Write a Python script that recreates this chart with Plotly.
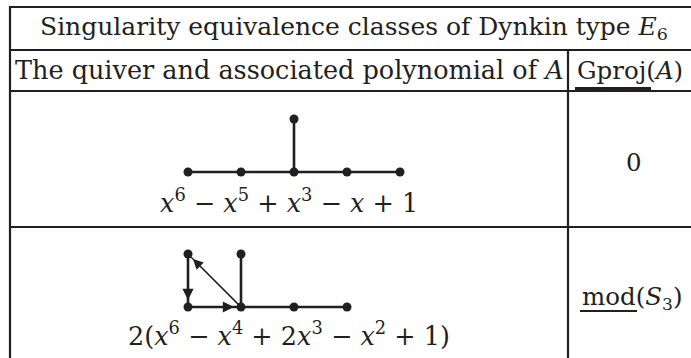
import plotly.graph_objects as go

# ---- table text ----
title = "Singularity equivalence classes of Dynkin type <i>E</i><sub>6</sub>"
header = ["The quiver and associated polynomial of <i>A</i>", "Gproj(<i>A</i>)"]
polynomials = [
    "<i>x</i><sup>6</sup> − <i>x</i><sup>5</sup> + <i>x</i><sup>3</sup> − <i>x</i> + 1",
    "2(<i>x</i><sup>6</sup> − <i>x</i><sup>4</sup> + 2<i>x</i><sup>3</sup> − <i>x</i><sup>2</sup> + 1)",
]
gproj = ["0", "mod(<i>S</i><sub>3</sub>)"]

# ---- quivers, in grid units ----
q1_x = [0, 1, 2, 3, 4, 2]
q1_y = [0, 0, 0, 0, 0, 1]
q1_edges = [(0, 1), (1, 2), (2, 3), (3, 4), (2, 5)]

q2_x = [0, 1, 2, 3, 0, 1]
q2_y = [0, 0, 0, 0, 1, 1]
q2_edges = [(0, 1), (1, 2), (2, 3), (1, 5), (4, 0)]
q2_thick_arrows = [(4, 0), (0, 1)]
q2_thin_arrows = [(1, 4)]

W, H = 691, 358
ink = '#231f20'
serif = 'DejaVu Serif'
unit = 53          # px per grid step
x0_px = 188        # px of grid x=0
row_base = [172, 307]  # px of grid y=0 in each row

fig = go.Figure()


def edge_xy(xs, ys, edges):
    ex, ey = [], []
    for a, b in edges:
        ex += [xs[a], xs[b], None]
        ey += [ys[a], ys[b], None]
    return ex, ey


for xs, ys, edges, ya in [(q1_x, q1_y, q1_edges, 'y2'), (q2_x, q2_y, q2_edges, 'y3')]:
    ex, ey = edge_xy(xs, ys, edges)
    fig.add_trace(go.Scatter(x=ex, y=ey, mode='lines', xaxis='x2', yaxis=ya,
                             line=dict(color=ink, width=2.6), showlegend=False, hoverinfo='skip'))

# thin diagonal edge
ex, ey = edge_xy(q2_x, q2_y, q2_thin_arrows)
fig.add_trace(go.Scatter(x=ex, y=ey, mode='lines', xaxis='x2', yaxis='y3',
                         line=dict(color=ink, width=1.2), showlegend=False, hoverinfo='skip'))

for xs, ys, ya in [(q1_x, q1_y, 'y2'), (q2_x, q2_y, 'y3')]:
    fig.add_trace(go.Scatter(x=xs, y=ys, mode='markers', xaxis='x2', yaxis=ya,
                             marker=dict(color=ink, size=9), showlegend=False, hoverinfo='skip'))

# arrow heads
for arrows, w, size, so in [(q2_thick_arrows, 1.6, 1.4, 7), (q2_thin_arrows, 1.2, 1.7, 7)]:
    for a, b in arrows:
        fig.add_annotation(x=q2_x[b], y=q2_y[b], ax=q2_x[a], ay=q2_y[a],
                           xref='x2', yref='y3', axref='x2', ayref='y3',
                           text='', showarrow=True, arrowhead=2, arrowsize=size,
                           arrowwidth=w, arrowcolor=ink, standoff=so)

# table rules
rule = dict(color=ink, width=2.2)
for yy in [7, 50, 91, 227]:
    fig.add_shape(type='line', xref='x', yref='y', x0=9, x1=W + 20, y0=yy, y1=yy, line=rule)
fig.add_shape(type='line', xref='x', yref='y', x0=10, x1=10, y0=6, y1=H + 20, line=rule)
fig.add_shape(type='line', xref='x', yref='y', x0=568, x1=568, y0=50, y1=H + 20, line=rule)
# underlines (Gproj, mod)
fig.add_shape(type='line', xref='x', yref='y', x0=575, x1=651, y0=88.5, y1=88.5, line=dict(color=ink, width=3))
fig.add_shape(type='line', xref='x', yref='y', x0=580, x1=637, y0=311, y1=311, line=dict(color=ink, width=1.8))

texts = [
    (title, 354, 28, 'center', 25),
    (header[0], 13, 70, 'left', 25.5),
    (header[1], 575, 70, 'left', 24.5),
    (polynomials[0], 289, 201, 'center', 25.5),
    (gproj[0], 634, 162, 'center', 24.5),
    (polynomials[1], 289, 334, 'center', 25.5),
    (gproj[1], 580, 298, 'left', 24.5),
]
for t, x, y, anc, size in texts:
    fig.add_annotation(x=x, y=y, xref='x', yref='y', text=t, showarrow=False,
                       xanchor=anc, yanchor='middle',
                       font=dict(family=serif, size=size, color=ink))

hidden = dict(visible=False, showgrid=False, zeroline=False, fixedrange=True)
fig.update_layout(
    width=W, height=H, margin=dict(l=0, r=0, t=0, b=0),
    paper_bgcolor='white', plot_bgcolor='white', showlegend=False,
    xaxis=dict(range=[0, W], **hidden),
    yaxis=dict(range=[H, 0], **hidden),
    xaxis2=dict(range=[-x0_px / unit, (W - x0_px) / unit], overlaying='x', anchor='y', **hidden),
    yaxis2=dict(range=[(row_base[0] - H) / unit, row_base[0] / unit], overlaying='y', anchor='x', **hidden),
    yaxis3=dict(range=[(row_base[1] - H) / unit, row_base[1] / unit], overlaying='y', anchor='x', **hidden),
)

fig.write_html("out.html", config={'displayModeBar': False},
               post_script="document.body.style.margin='0';")
